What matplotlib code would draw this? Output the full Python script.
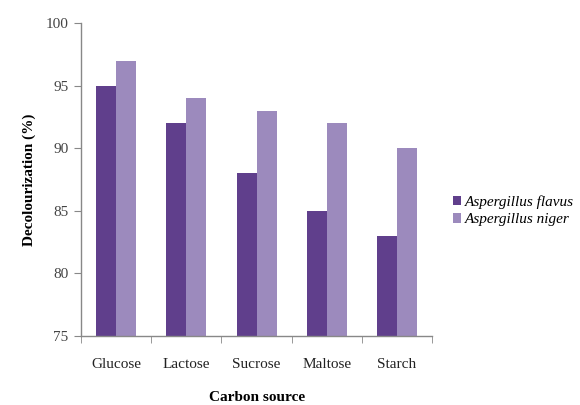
import matplotlib
matplotlib.use("Agg")
import matplotlib.pyplot as plt
import numpy as np

categories = ["Glucose", "Lactose", "Sucrose", "Maltose", "Starch"]
flavus = [95, 92, 88, 85, 83]
niger = [97, 94, 93, 92, 90]
yticks = [75, 80, 85, 90, 95, 100]

plt.rcParams["font.family"] = ["Liberation Serif", "DejaVu Serif"]

fig = plt.figure(figsize=(5.8, 4.05), dpi=100)
ax = fig.add_axes([0.1397, 0.1704, 0.6053, 0.7728])

x = np.arange(len(categories))
w = 0.285
ax.bar(x - w / 2, [v - 75 for v in flavus], w, bottom=75, color="#603f8c",
       label="Aspergillus flavus")
ax.bar(x + w / 2, [v - 75 for v in niger], w, bottom=75, color="#9c8abd",
       label="Aspergillus niger")

ax.set_xlim(-0.5, len(categories) - 0.5)
ax.set_ylim(75, 100)
ax.set_yticks(yticks)
ax.set_yticklabels([str(t) for t in yticks], fontsize=11, color="#444444")

ax.set_xticks(x)
ax.set_xticklabels(categories, fontsize=11, color="#222222")
ax.tick_params(axis="x", length=0, pad=16)
ax.set_xticks(np.arange(len(categories) + 1) - 0.5, minor=True)
ax.tick_params(axis="x", which="minor", length=5, color="#888888", direction="out")
ax.tick_params(axis="y", length=5, color="#888888", direction="out", pad=4)

for s in ["top", "right"]:
    ax.spines[s].set_visible(False)
for s in ["left", "bottom"]:
    ax.spines[s].set_color("#888888")
    ax.spines[s].set_linewidth(1.0)

ax.set_ylabel("Decolourization (%)", fontsize=11, fontweight="bold", labelpad=7)
ax.set_xlabel("Carbon source", fontsize=11, fontweight="bold", labelpad=14)

leg = ax.legend(loc="center left", bbox_to_anchor=(1.02, 0.40), frameon=False,
                prop={"style": "italic", "size": 11}, handlelength=0.55,
                handleheight=0.55, handletextpad=0.2, labelspacing=0.3)

fig.savefig("out.png", dpi=100)
